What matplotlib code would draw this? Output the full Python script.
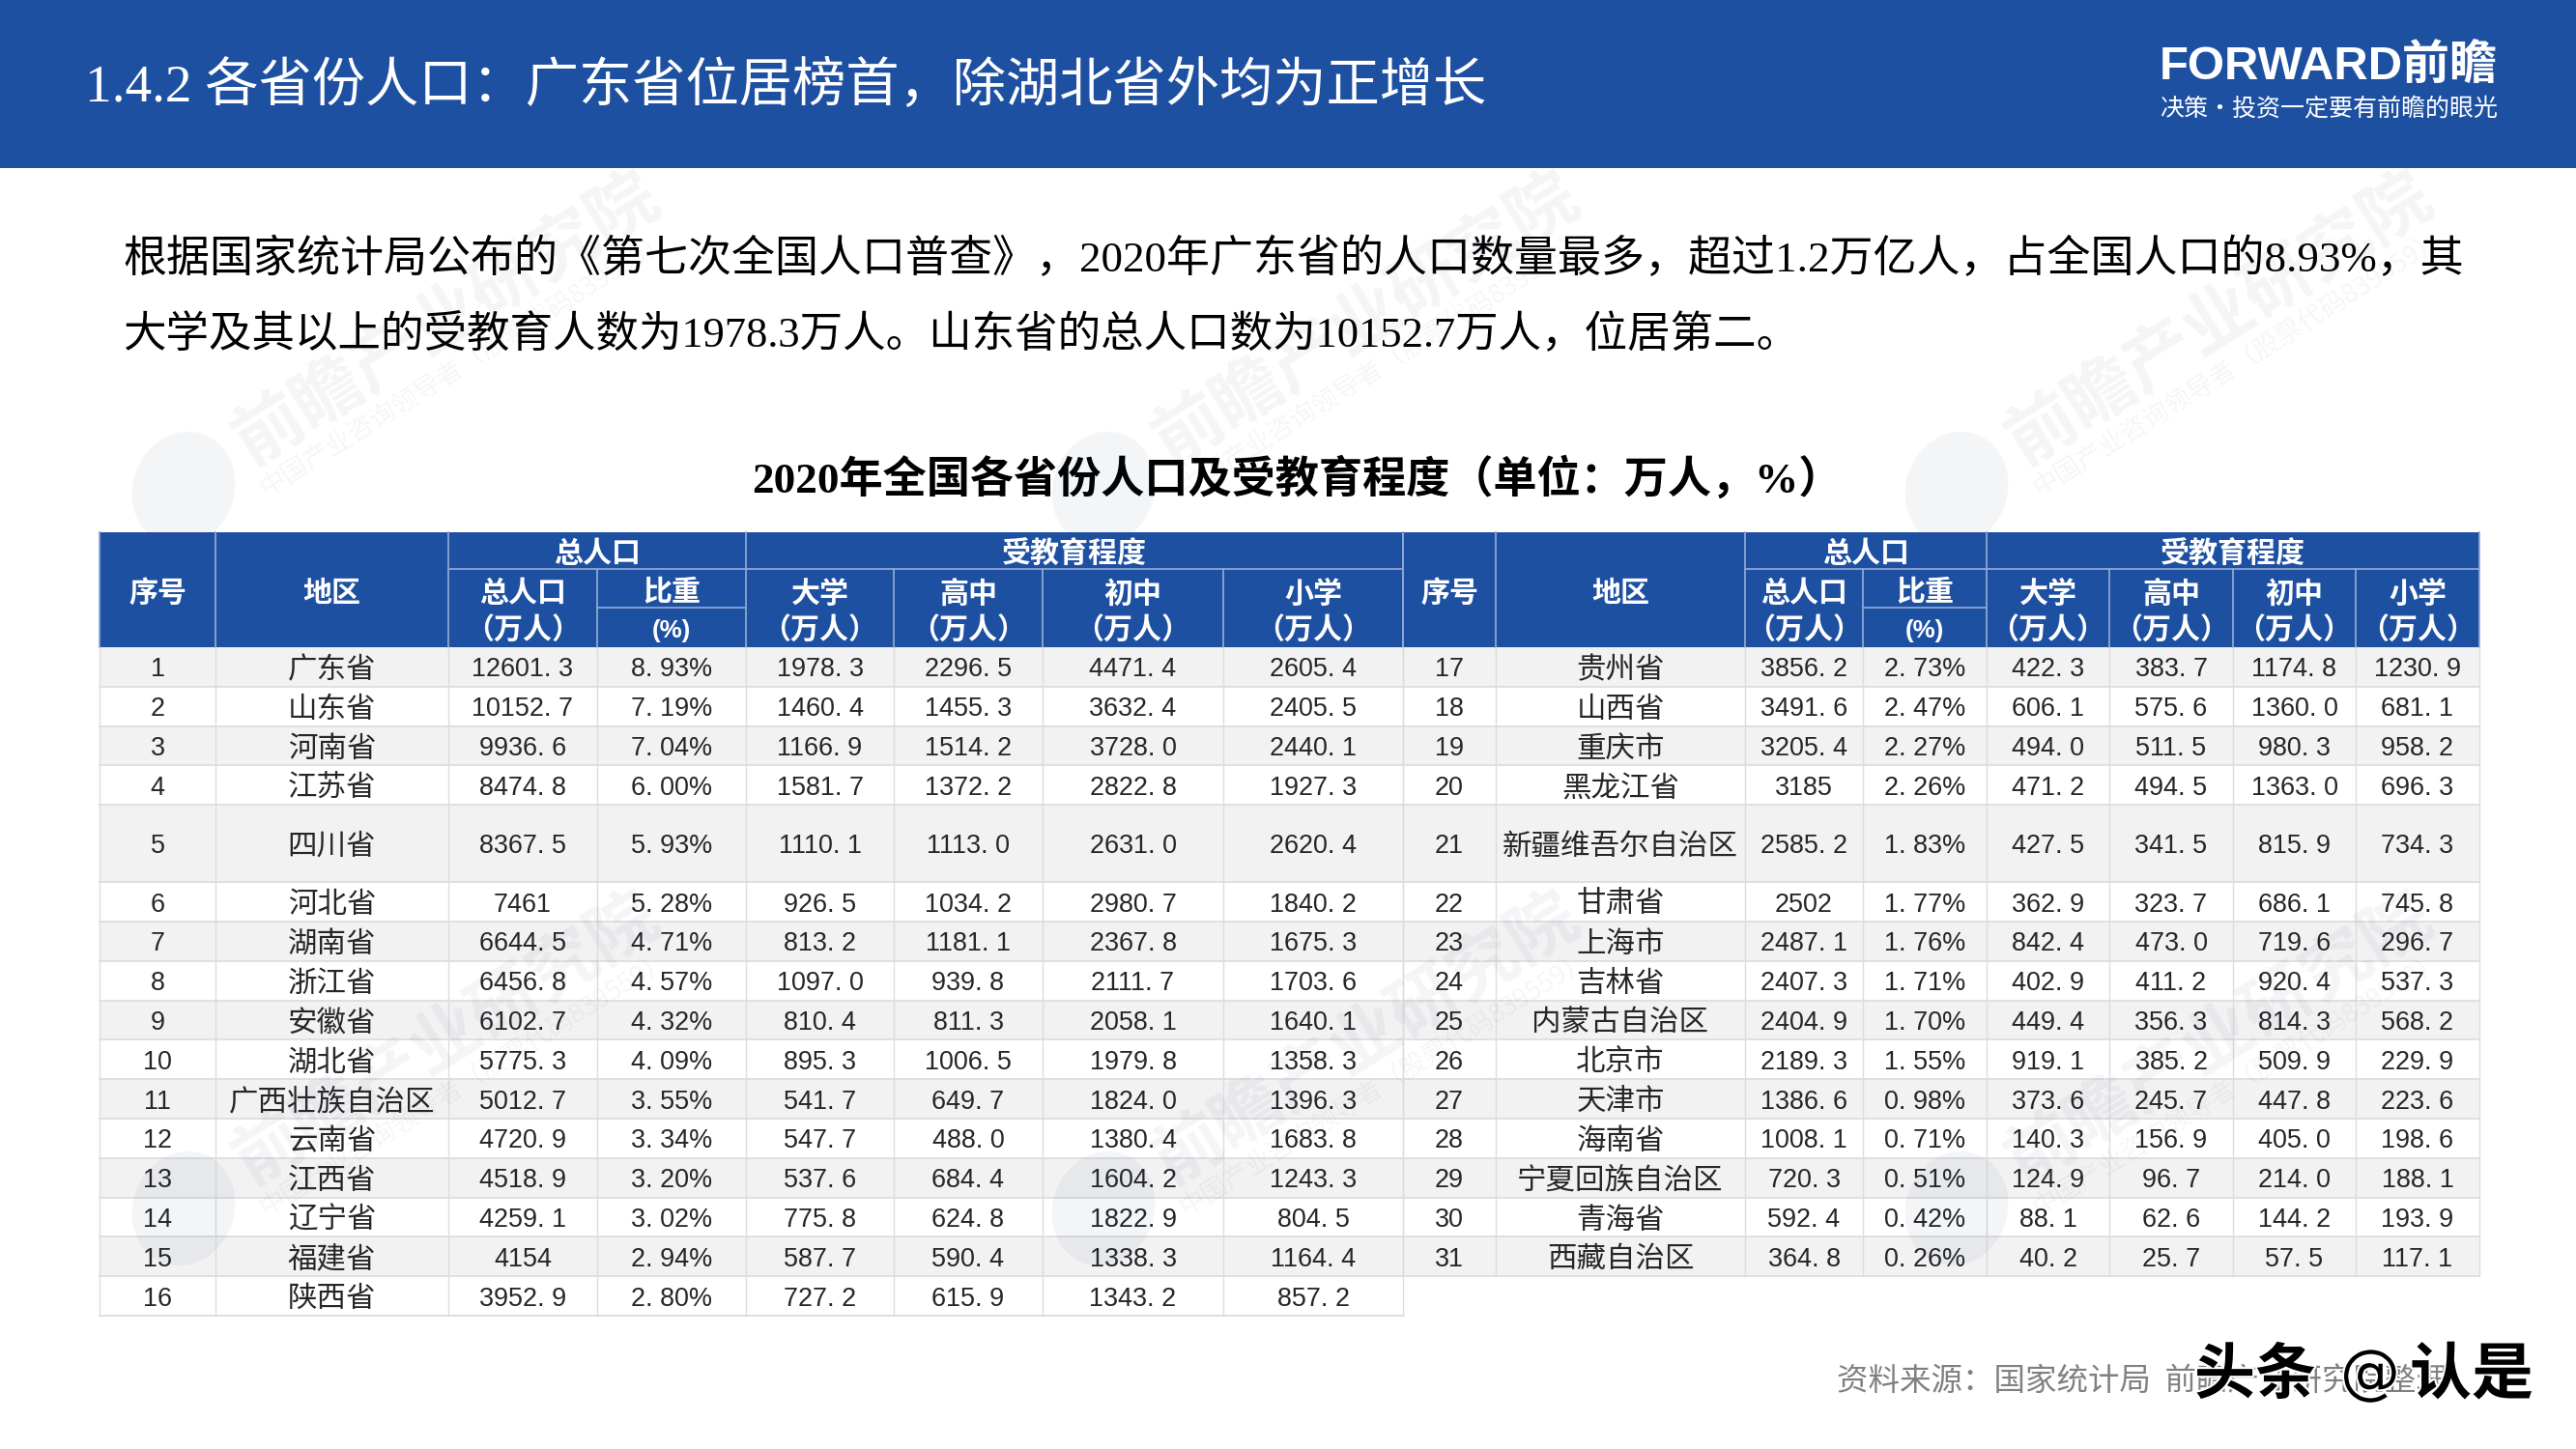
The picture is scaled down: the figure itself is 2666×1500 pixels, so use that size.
#!/usr/bin/env python3
"""Rebuild the provincial population table slide."""

import matplotlib
matplotlib.use('Agg')
import matplotlib.pyplot as plt
import matplotlib.patheffects as pe
from matplotlib.patches import Rectangle, Ellipse

# data, left table is 1-16, right table 17-31
seq = list(range(1, 32))
regions = ['广东省', '山东省', '河南省', '江苏省', '四川省', '河北省', '湖南省', '浙江省',
           '安徽省', '湖北省', '广西壮族自治区', '云南省', '江西省', '辽宁省', '福建省', '陕西省',
           '贵州省', '山西省', '重庆市', '黑龙江省', '新疆维吾尔自治区', '甘肃省', '上海市', '吉林省',
           '内蒙古自治区', '北京市', '天津市', '海南省', '宁夏回族自治区', '青海省', '西藏自治区']
total_pop = ['12601.3', '10152.7', '9936.6', '8474.8', '8367.5', '7461', '6644.5', '6456.8',
             '6102.7', '5775.3', '5012.7', '4720.9', '4518.9', '4259.1', '4154', '3952.9',
             '3856.2', '3491.6', '3205.4', '3185', '2585.2', '2502', '2487.1', '2407.3',
             '2404.9', '2189.3', '1386.6', '1008.1', '720.3', '592.4', '364.8']
share = ['8.93%', '7.19%', '7.04%', '6.00%', '5.93%', '5.28%', '4.71%', '4.57%',
         '4.32%', '4.09%', '3.55%', '3.34%', '3.20%', '3.02%', '2.94%', '2.80%',
         '2.73%', '2.47%', '2.27%', '2.26%', '1.83%', '1.77%', '1.76%', '1.71%',
         '1.70%', '1.55%', '0.98%', '0.71%', '0.51%', '0.42%', '0.26%']
college = ['1978.3', '1460.4', '1166.9', '1581.7', '1110.1', '926.5', '813.2', '1097.0',
           '810.4', '895.3', '541.7', '547.7', '537.6', '775.8', '587.7', '727.2',
           '422.3', '606.1', '494.0', '471.2', '427.5', '362.9', '842.4', '402.9',
           '449.4', '919.1', '373.6', '140.3', '124.9', '88.1', '40.2']
high_school = ['2296.5', '1455.3', '1514.2', '1372.2', '1113.0', '1034.2', '1181.1', '939.8',
               '811.3', '1006.5', '649.7', '488.0', '684.4', '624.8', '590.4', '615.9',
               '383.7', '575.6', '511.5', '494.5', '341.5', '323.7', '473.0', '411.2',
               '356.3', '385.2', '245.7', '156.9', '96.7', '62.6', '25.7']
middle_school = ['4471.4', '3632.4', '3728.0', '2822.8', '2631.0', '2980.7', '2367.8', '2111.7',
                 '2058.1', '1979.8', '1824.0', '1380.4', '1604.2', '1822.9', '1338.3', '1343.2',
                 '1174.8', '1360.0', '980.3', '1363.0', '815.9', '686.1', '719.6', '920.4',
                 '814.3', '509.9', '447.8', '405.0', '214.0', '144.2', '57.5']
primary = ['2605.4', '2405.5', '2440.1', '1927.3', '2620.4', '1840.2', '1675.3', '1703.6',
           '1640.1', '1358.3', '1396.3', '1683.8', '1243.3', '804.5', '1164.4', '857.2',
           '1230.9', '681.1', '958.2', '696.3', '734.3', '745.8', '296.7', '537.3',
           '568.2', '229.9', '223.6', '198.6', '188.1', '193.9', '117.1']

BLUE = '#1E50A2'
HEAD_LINE = '#8DA6D2'
GRID = '#DDDDDD'
STRIPE = '#F2F2F2'
INK = '#262626'

SANS = ['Liberation Sans', 'Noto Sans CJK SC']
SERIF = ['Liberation Serif', 'Noto Sans CJK SC']
CJK = ['Noto Sans CJK SC', 'DejaVu Sans']


def pt(px):
    return px * 0.72


fig = plt.figure(figsize=(26.66, 15), dpi=100, facecolor='white')
ax = fig.add_axes([0, 0, 1, 1])
ax.set_xlim(0, 2666)
ax.set_ylim(1500, 0)
ax.axis('off')

# banner
ax.add_patch(Rectangle((0, 0), 2666, 174, facecolor=BLUE, edgecolor='none'))
ax.text(88, 91, '1.4.2 各省份人口：广东省位居榜首，除湖北省外均为正增长', color='white',
        fontsize=pt(55.3), family=SERIF, ha='left', va='center')
ax.text(2235, 70, 'FORWARD前瞻', color='white', fontsize=pt(49), fontweight='bold',
        family=SANS, ha='left', va='center')
ax.text(2235, 113, '决策·投资一定要有前瞻的眼光', color='white', fontsize=pt(25),
        family=CJK, ha='left', va='center')

# intro paragraph
ax.text(127, 268, '根据国家统计局公布的《第七次全国人口普查》，2020年广东省的人口数量最多，超过1.2万亿人，占全国人口的8.93%，其',
        color='black', fontsize=pt(45), family=SERIF, ha='left', va='center')
ax.text(127, 347, '大学及其以上的受教育人数为1978.3万人。山东省的总人口数为10152.7万人，位居第二。',
        color='black', fontsize=pt(44.5), family=SERIF, ha='left', va='center')
ax.text(1342, 496, '2020年全国各省份人口及受教育程度（单位：万人，%）', color='black',
        fontsize=pt(45.2), fontweight='bold', family=SERIF, ha='center', va='center')

# table geometry
head_top, head_mid, head_share, head_bot = 551, 589, 629, 670
row_h = 40.8
tall_h = 80
tall_row = 4
left_edges = [103, 223, 464, 618, 772, 925, 1079, 1266, 1452]
right_edges = [1452, 1548, 1806, 1928, 2056, 2183, 2311, 2438, 2566]
edu_heads = ['大学', '高中', '初中', '小学']


def head_text(x, y, s):
    ax.text(x, y, s, color='white', fontsize=pt(30), fontweight='bold', family=SANS,
            ha='center', va='center', zorder=5)


def draw_header(e):
    ax.add_patch(Rectangle((e[0], head_top), e[-1] - e[0], head_bot - head_top,
                           facecolor=BLUE, edgecolor='none', zorder=2))
    for x in e:
        top = head_top if x in (e[0], e[1], e[2], e[4], e[-1]) else head_mid
        ax.plot([x, x], [top, head_bot], color=HEAD_LINE, lw=1.3, zorder=3)
    ax.plot([e[2], e[-1]], [head_mid, head_mid], color=HEAD_LINE, lw=1.3, zorder=3)
    ax.plot([e[3], e[4]], [head_share, head_share], color=HEAD_LINE, lw=1.3, zorder=3)
    head_text((e[0] + e[1]) / 2, 615, '序号')
    head_text((e[1] + e[2]) / 2, 615, '地区')
    head_text((e[2] + e[4]) / 2, 574, '总人口')
    head_text((e[4] + e[8]) / 2, 574, '受教育程度')
    head_text((e[2] + e[3]) / 2, 615, '总人口')
    head_text((e[2] + e[3]) / 2, 653, '（万人）')
    head_text((e[3] + e[4]) / 2, 613, '比重')
    ax.text((e[3] + e[4]) / 2, 653, '(%)', color='white', fontsize=pt(26), fontweight='bold',
            family=SANS, ha='center', va='center', zorder=5)
    for i, name in enumerate(edu_heads):
        xc = (e[4 + i] + e[5 + i]) / 2
        head_text(xc, 615, name)
        head_text(xc, 653, '（万人）')


def spaced(s):
    # the source prints a gap after the decimal point
    return s.replace('.', '. ')


def draw_body(e, start, stop):
    y = head_bot
    for n, k in enumerate(range(start, stop)):
        h = tall_h if n == tall_row else row_h
        if n % 2 == 0:
            ax.add_patch(Rectangle((e[0], y), e[-1] - e[0], h, facecolor=STRIPE,
                                   edgecolor='none', zorder=1))
        ym = y + h / 2
        cols = [str(seq[k]), regions[k], total_pop[k], share[k], college[k],
                high_school[k], middle_school[k], primary[k]]
        for c, val in enumerate(cols):
            xc = (e[c] + e[c + 1]) / 2
            if c == 1:
                ax.text(xc, ym + 3, val, color=INK, fontsize=pt(30.5), family=CJK,
                        ha='center', va='center', zorder=5)
            else:
                ax.text(xc, ym + 3, spaced(val), color=INK, fontsize=pt(27), family=SANS,
                        ha='center', va='center', zorder=5)
        y += h
        ax.plot([e[0], e[-1]], [y, y], color=GRID, lw=1.3, zorder=3)
    for x in e:
        ax.plot([x, x], [head_bot, y], color=GRID, lw=1.0, zorder=3)


draw_header(left_edges)
draw_header(right_edges)
draw_body(left_edges, 0, 16)
draw_body(right_edges, 16, 31)

# faint company watermarks
WM = '#24406F'
for ox, oy in [(0, 0), (952, 0), (1835, 0), (0, 745), (952, 745), (1835, 745)]:
    ax.add_patch(Ellipse((190 + ox, 506 + oy), 105, 120, angle=20, facecolor=WM,
                         edgecolor='none', alpha=0.05, zorder=6))
    ax.text(462 + ox, 330 + oy, '前瞻产业研究院', color=WM, alpha=0.055, fontsize=pt(72),
            fontweight='bold', family=CJK, rotation=32, ha='center', va='center', zorder=6)
    ax.text(481 + ox, 376 + oy, '中国产业咨询领导者（股票代码839559）', color=WM, alpha=0.05,
            fontsize=pt(27), family=CJK, rotation=32, ha='center', va='center', zorder=6)

# footer
ax.text(1901, 1430, '资料来源：国家统计局  前瞻产业研究院整理', color='#808080', fontsize=pt(32.5),
        family=CJK, ha='left', va='center', zorder=7)
shadow = [pe.withStroke(linewidth=3, foreground='white')]
ax.text(2271, 1424, '头条', color='black', fontsize=pt(63), fontweight='bold', family=CJK,
        ha='left', va='center', zorder=8, path_effects=shadow)
ax.text(2453, 1424, '@', color='black', fontsize=pt(62), family='DejaVu Sans', ha='center',
        va='center', zorder=8, path_effects=shadow)
ax.text(2622, 1424, '认是', color='black', fontsize=pt(64), fontweight='bold', family=CJK,
        ha='right', va='center', zorder=8, path_effects=shadow)

fig.savefig('out.png', dpi=100, facecolor='white')
plt.close(fig)
